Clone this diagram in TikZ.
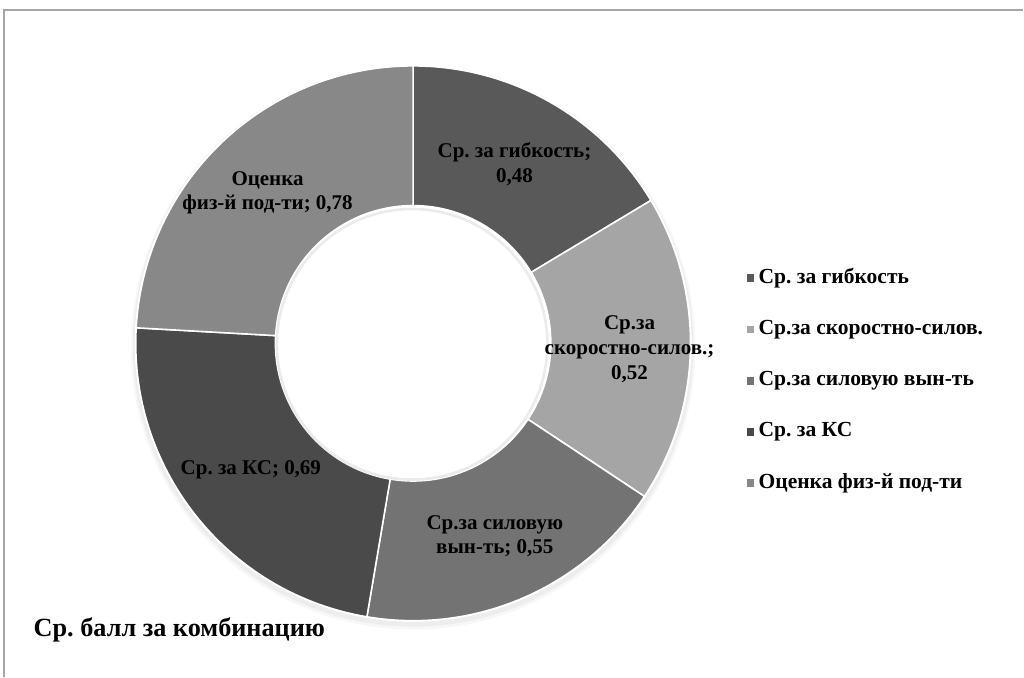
\documentclass[tikz,border=0pt]{standalone}
\usepackage{fontspec}
\setmainfont{Liberation Serif}
\frenchspacing

\definecolor{flexcol}{HTML}{595959}
\definecolor{speedcol}{HTML}{A5A5A5}
\definecolor{strengthcol}{HTML}{737373}
\definecolor{kscol}{HTML}{4A4A4A}
\definecolor{fitcol}{HTML}{888888}
\definecolor{framecol}{HTML}{A6A6A6}

\begin{document}
\begin{tikzpicture}[x=0.75pt,y=0.75pt,
  seg/.style={draw=white,line width=1.2pt},
  lbl/.style={font=\bfseries\fontsize{16}{18.75}\selectfont,align=center,inner sep=0pt},
  legtext/.style={font=\bfseries\fontsize{16.4}{19}\selectfont,anchor=west,inner sep=0pt},
  legkey/.style={minimum size=6pt,inner sep=0pt}]
% frame
\draw[framecol,line width=1.5pt] (4,-10) -- (4,668) -- (1040,668);
% ring
\begin{scope}[shift={(420,329)}]
\fill[black,opacity=0.03] (0,-4) circle (287);
\fill[black,opacity=0.04] (0,-3) circle (285);
\fill[white] (0,0) circle (283);
\fill[flexcol,seg] (90:282) arc[start angle=90,end angle=31,radius=282] -- (31:140) arc[start angle=31,end angle=90,radius=140] -- cycle;
\fill[speedcol,seg] (31:282) arc[start angle=31,end angle=-33.5,radius=282] -- (-33.5:140) arc[start angle=-33.5,end angle=31,radius=140] -- cycle;
\fill[strengthcol,seg] (-33.5:282) arc[start angle=-33.5,end angle=-99.6,radius=282] -- (-99.6:140) arc[start angle=-99.6,end angle=-33.5,radius=140] -- cycle;
\fill[kscol,seg] (-99.6:282) arc[start angle=-99.6,end angle=-183.2,radius=282] -- (-183.2:140) arc[start angle=-183.2,end angle=-99.6,radius=140] -- cycle;
\fill[fitcol,seg] (-183.2:282) arc[start angle=-183.2,end angle=-270,radius=282] -- (-270:140) arc[start angle=-270,end angle=-183.2,radius=140] -- cycle;
\draw[black,opacity=0.08,line width=2pt] (-1,-1) circle (137.5);
\end{scope}
% slice labels
\node[lbl] (flexlbl) at (523,511) {Ср. за гибкость;\\0,48};
\node[lbl] (speedlbl) at (640,323) {Ср.за\\скоростно-силов.;\\0,52};
\node[lbl] (strengthlbl) at (503,133) {Ср.за силовую\\вын-ть; 0,55};
\node[lbl] (kslbl) at (255,200) {Ср. за КС; 0,69};
\node[lbl] (fitlbl) at (272,482) {Оценка\\физ-й под-ти; 0,78};
% legend
\node[legkey,fill=flexcol] (flexkey) at (763,395) {};
\node[legtext] (flexleg) at (771,395) {Ср. за гибкость};
\node[legkey,fill=speedcol] (speedkey) at (763,343) {};
\node[legtext] (speedleg) at (771,343) {Ср.за скоростно-силов.};
\node[legkey,fill=strengthcol] (strengthkey) at (763,291) {};
\node[legtext] (strengthleg) at (771,291) {Ср.за силовую вын-ть};
\node[legkey,fill=kscol] (kskey) at (763,239) {};
\node[legtext] (ksleg) at (771,239) {Ср. за КС};
\node[legkey,fill=fitcol] (fitkey) at (763,187) {};
\node[legtext] (fitleg) at (771,187) {Оценка физ-й под-ти};
% axis title
\node[font=\bfseries\fontsize{20}{22}\selectfont,anchor=west,inner sep=0pt] (combtitle) at (34,38) {Ср. балл за комбинацию};
\useasboundingbox (0,0) rectangle (1024,678);
\end{tikzpicture}
\end{document}
